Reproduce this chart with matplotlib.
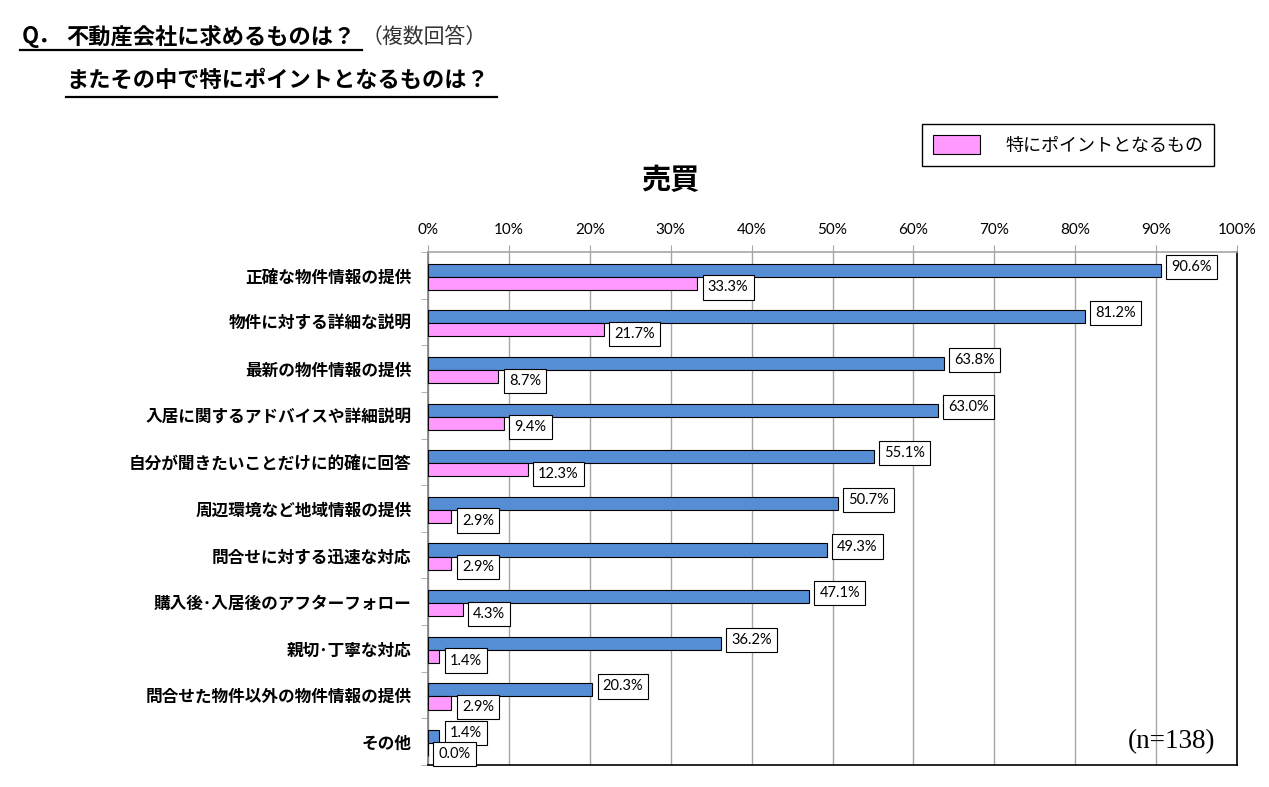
import numpy as np
import matplotlib.pyplot as plt
from matplotlib.lines import Line2D
from matplotlib.patches import Patch

JP = ["Noto Sans CJK JP", "DejaVu Sans"]
NUM = ["Lato", "DejaVu Sans"]

categories = [
    "正確な物件情報の提供",
    "物件に対する詳細な説明",
    "最新の物件情報の提供",
    "入居に関するアドバイスや詳細説明",
    "自分が聞きたいことだけに的確に回答",
    "周辺環境など地域情報の提供",
    "問合せに対する迅速な対応",
    "購入後･入居後のアフターフォロー",
    "親切･丁寧な対応",
    "問合せた物件以外の物件情報の提供",
    "その他",
]
overall = [90.6, 81.2, 63.8, 63.0, 55.1, 50.7, 49.3, 47.1, 36.2, 20.3, 1.4]
point = [33.3, 21.7, 8.7, 9.4, 12.3, 2.9, 2.9, 4.3, 1.4, 2.9, 0.0]
xticks = np.arange(0, 101, 10)

C_BLUE = "#558ED5"
C_PINK = "#FF99FF"
C_GRID = "#A6A6A6"

fig = plt.figure(figsize=(12.69, 7.87), dpi=100)
fig.patch.set_facecolor("white")
ax = fig.add_axes([428 / 1269, 1 - 765 / 787, 809 / 1269, 513 / 787])

y = np.arange(len(categories))
h = 0.28
ax.barh(y - 0.11, overall, height=h, color=C_BLUE, edgecolor="black", linewidth=0.8, zorder=3)
ax.barh(y + 0.17, point, height=h, color=C_PINK, edgecolor="black", linewidth=0.8, zorder=3)

box = dict(boxstyle="square,pad=0.35", facecolor="white", edgecolor="black", linewidth=0.8)
for i, (a, b) in enumerate(zip(overall, point)):
    ax.annotate(f"{a:.1f}%", (a, i - 0.11), xytext=(7.5, 2.5), textcoords="offset points",
                ha="left", va="center", fontsize=10.5, family=NUM, bbox=box, zorder=5)
    ax.annotate(f"{b:.1f}%", (b, i + 0.17), xytext=(7.5, -3), textcoords="offset points",
                ha="left", va="center", fontsize=10.5, family=NUM, bbox=box, zorder=5)

ax.set_xlim(0, 100)
ax.set_ylim(len(categories) - 0.5, -0.5)
ax.xaxis.tick_top()
ax.set_xticks(xticks)
ax.set_xticklabels([f"{v}%" for v in xticks], family=NUM, fontsize=11)
ax.tick_params(axis="x", length=5, color=C_GRID, pad=6)
ax.grid(axis="x", color=C_GRID, linewidth=1.0, zorder=0)

ax.set_yticks(y)
ax.set_yticklabels(categories, family=JP, fontweight="bold", fontsize=12)
ax.tick_params(axis="y", length=0, pad=12)
ax.set_yticks(np.arange(len(categories) + 1) - 0.5, minor=True)
ax.tick_params(axis="y", which="minor", length=5, color=C_GRID)

ax.spines["top"].set_color(C_GRID)
ax.spines["left"].set_color("#808080")
ax.spines["right"].set_color("black")
ax.spines["bottom"].set_color("black")
for s in ax.spines.values():
    s.set_linewidth(1.2)

ax.text(0.9725, 0.045, "(n=138)", transform=ax.transAxes, ha="right", va="center",
        fontsize=19.5, family="Liberation Serif", zorder=6)

# chart title
fig.text(670 / 1269, 1 - 180 / 787, "売買", family=JP, fontweight="bold",
         fontsize=21, ha="center", va="center")

# heading
fig.text(22 / 1269, 1 - 37 / 787, "Q．", family=JP, fontweight="bold", fontsize=16, va="center")
fig.text(66 / 1269, 1 - 37 / 787, "不動産会社に求めるものは？", family=JP, fontweight="bold",
         fontsize=16, va="center")
fig.text(362 / 1269, 1 - 37 / 787, "（複数回答）", family=JP, fontsize=15,
         color="#333333", va="center")
fig.text(66 / 1269, 1 - 80 / 787, "またその中で特にポイントとなるものは？", family=JP,
         fontweight="bold", fontsize=16, va="center")
fig.add_artist(Line2D([20 / 1269, 362 / 1269], [1 - 50 / 787] * 2, color="black", lw=1.6))
fig.add_artist(Line2D([66 / 1269, 497 / 1269], [1 - 97 / 787] * 2, color="black", lw=1.6))

# legend (only the highlighted series)
leg = fig.legend(handles=[Patch(facecolor=C_PINK, edgecolor="black", linewidth=0.8,
                                label="特にポイントとなるもの")],
                 loc="center", bbox_to_anchor=(1068 / 1269, 1 - 145 / 787),
                 prop={"family": JP, "size": 13}, fancybox=False, framealpha=1,
                 edgecolor="black", handlelength=2.6, handleheight=1.2,
                 handletextpad=1.4, borderpad=0.6, borderaxespad=0)
leg.get_frame().set_linewidth(1.0)

fig.savefig("out.png", dpi=100, facecolor="white")
